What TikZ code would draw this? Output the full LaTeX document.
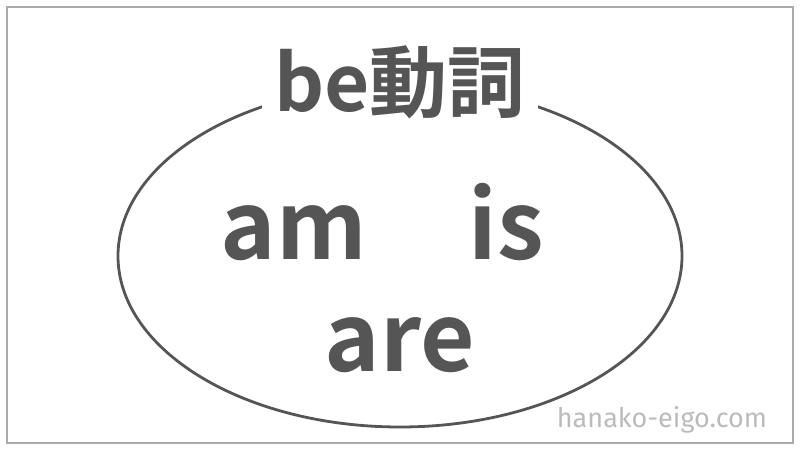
\documentclass[tikz,border=0pt]{standalone}
\usepackage{fontspec}
\usetikzlibrary{shapes.geometric}
\newfontfamily\jpfont{Noto Sans CJK JP}[BoldFont=* Bold]
\newfontfamily\wmfont{Fira Sans}
\definecolor{ink}{HTML}{555555}
\definecolor{frame}{HTML}{AAAAAA}
\definecolor{wm}{HTML}{BBBBBB}
\begin{document}
\begin{tikzpicture}[x=1pt,y=1pt,
  word/.style={text=ink,font=\jpfont\bfseries\fontsize{94}{94}\selectfont,inner sep=0pt,anchor=base},
  title/.style={text=ink,fill=white,font=\jpfont\bfseries\fontsize{78}{78}\selectfont,inner ysep=2pt,inner xsep=12pt,anchor=base}]
\useasboundingbox (0,0) rectangle (800,450);
\draw[frame,line width=2.5pt] (7,7) rectangle (793,443);
\node[draw=ink,line width=2.8pt,ellipse,minimum width=564,minimum height=342,inner sep=0pt] (ell) at (400,194) {};
\node[title] (t) at (400,338) {be動詞};
\node[word] (am) at (294,190) {am};
\node[word] (is) at (506,190) {is};
\node[word] (are) at (400,79) {are};
\node[text=wm,font=\wmfont\fontsize{27}{27}\selectfont,anchor=base,inner sep=0pt] (w) at (662,23) {hanako-eigo.com};
\end{tikzpicture}
\end{document}
